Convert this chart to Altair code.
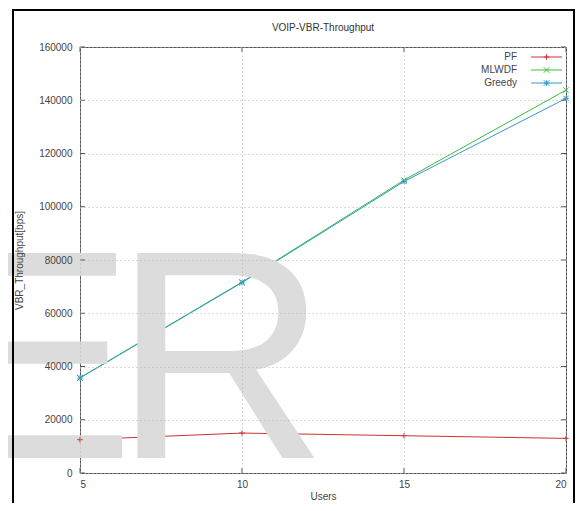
import altair as alt
import pandas as pd

users = [5, 10, 15, 20]
pf = [12500, 15000, 14000, 13000]
mlwdf = [35800, 71700, 110000, 143800]
greedy = [35700, 71500, 109500, 140700]
series_names = ["PF", "MLWDF", "Greedy"]
series_colors = ["#cc3333", "#3cbc3c", "#3399cc"]
y_ticks = [0, 20000, 40000, 60000, 80000, 100000, 120000, 140000, 160000]
x_ticks = [5, 10, 15, 20]
title_text = "VOIP-VBR-Throughput"
x_title = "Users"
y_title = "VBR_Throughput[bps]"

PLUS = "M-1,0L1,0M0,-1L0,1"
CROSS = "M-1,-1L1,1M-1,1L1,-1"
STAR = PLUS + CROSS
shapes = [PLUS, CROSS, STAR]

FONT = "Liberation Sans"
W, H = 486, 426

rows = []
for name, vals in zip(series_names, [pf, mlwdf, greedy]):
    for u, v in zip(users, vals):
        rows.append({"users": u, "throughput": v, "series": name})
df = pd.DataFrame(rows)

xscale = alt.Scale(domain=[5, 20], nice=False, zero=False)
yscale = alt.Scale(domain=[0, 160000], nice=False)
cscale = alt.Scale(domain=series_names, range=series_colors)
sscale = alt.Scale(domain=series_names, range=shapes)

axis_common = dict(labelFont=FONT, labelFontSize=10, labelColor="#444",
                   titleFont=FONT, titleFontSize=10, titleColor="#444",
                   titleFontWeight="normal", grid=True, gridColor="#b4b4b4",
                   gridDash=[1, 3], gridWidth=1, ticks=False, domain=False, zindex=1)
x_axis = alt.Axis(values=x_ticks, format="d", labelPadding=6, title=x_title,
                  titleX=W / 2, titleY=23, titleBaseline="middle", **axis_common)
y_axis = alt.Axis(values=y_ticks, format="d", labelPadding=8, title=y_title,
                  titleX=-61, titleY=H / 2, titleAngle=-90, titleAlign="center",
                  titleBaseline="middle", labelBaseline="middle", **axis_common)

X = alt.X("users:Q", scale=xscale, axis=x_axis, title=x_title)
Y = alt.Y("throughput:Q", scale=yscale, axis=y_axis, title=y_title)

one = alt.Data(values=[{"a": 1}])

# watermark
WM_SIZE = 298
wm_e = alt.Chart(one).mark_text(text="E", font=FONT, fontSize=WM_SIZE, color="#dcdcdc",
                                  align="left", baseline="alphabetic").encode(
    x=alt.value(-144), y=alt.value(411))
wm_r = alt.Chart(one).mark_text(text="R", font=FONT, fontSize=WM_SIZE, color="#dcdcdc",
                                  align="left", baseline="alphabetic").encode(
    x=alt.value(33), y=alt.value(411))

# black frame
frame_l = alt.Chart(one).mark_rule(color="black", strokeWidth=2).encode(
    x=alt.value(-67), y=alt.value(-37), y2=alt.value(H + 40))
frame_t = alt.Chart(one).mark_rule(color="black", strokeWidth=2).encode(
    y=alt.value(-37), x=alt.value(-68), x2=alt.value(495))
frame_r = alt.Chart(one).mark_rule(color="black", strokeWidth=2).encode(
    x=alt.value(494), y=alt.value(-37), y2=alt.value(H + 40))

lines = alt.Chart(df).mark_line(strokeWidth=1).encode(
    x=X, y=Y,
    color=alt.Color("series:N", scale=cscale, legend=None),
    detail="series:N",
)
points = alt.Chart(df).mark_point(filled=False, size=30, strokeWidth=1, opacity=1).encode(
    x=X, y=Y,
    color=alt.Color("series:N", scale=cscale, legend=None),
    shape=alt.Shape("series:N", scale=sscale, legend=None),
)

ytick_df = pd.DataFrame({"throughput": y_ticks})
xtick_df = pd.DataFrame({"users": x_ticks})
tick_color = "#555555"
tl = alt.Chart(ytick_df).mark_rule(color=tick_color).encode(
    y=Y, x=alt.value(0), x2=alt.value(5))
tr = alt.Chart(ytick_df).mark_rule(color=tick_color).encode(
    y=Y, x=alt.value(W - 5), x2=alt.value(W))
tb = alt.Chart(xtick_df).mark_rule(color=tick_color).encode(
    x=X, y=alt.value(H - 5), y2=alt.value(H))
tt = alt.Chart(xtick_df).mark_rule(color=tick_color).encode(
    x=X, y=alt.value(0), y2=alt.value(5))

legend_layers = []
leg_y = [10, 23, 36]
for name, col, shp, ly in zip(series_names, series_colors, shapes, leg_y):
    legend_layers.append(alt.Chart(one).mark_text(text=name, font=FONT, fontSize=10,
                                                  color="#444", align="right",
                                                  baseline="middle").encode(
        x=alt.value(437), y=alt.value(ly)))
    legend_layers.append(alt.Chart(one).mark_rule(color=col, strokeWidth=1).encode(
        x=alt.value(451), x2=alt.value(482), y=alt.value(ly)))
    legend_layers.append(alt.Chart(one).mark_point(shape=shp, filled=False, size=30,
                                                   strokeWidth=1, color=col, opacity=1).encode(
        x=alt.value(466.5), y=alt.value(ly)))

title_mark = alt.Chart(one).mark_text(text=title_text, font=FONT, fontSize=10,
                                      color="#333", align="center", baseline="middle").encode(
    x=alt.value(W / 2), y=alt.value(-19))

chart = alt.layer(
    lines, wm_e, wm_r, frame_l, frame_t, frame_r, points, tl, tr, tb, tt,
    *legend_layers, title_mark
).properties(
    width=W, height=H,
    autosize=alt.AutoSizeParams(type="none"),
    padding={"left": 72, "top": 39, "right": 10, "bottom": 30},
    background="white",
).configure_view(stroke="#555555", strokeWidth=1)

chart.save("out.html", embed_options={"renderer": "svg", "actions": False})
